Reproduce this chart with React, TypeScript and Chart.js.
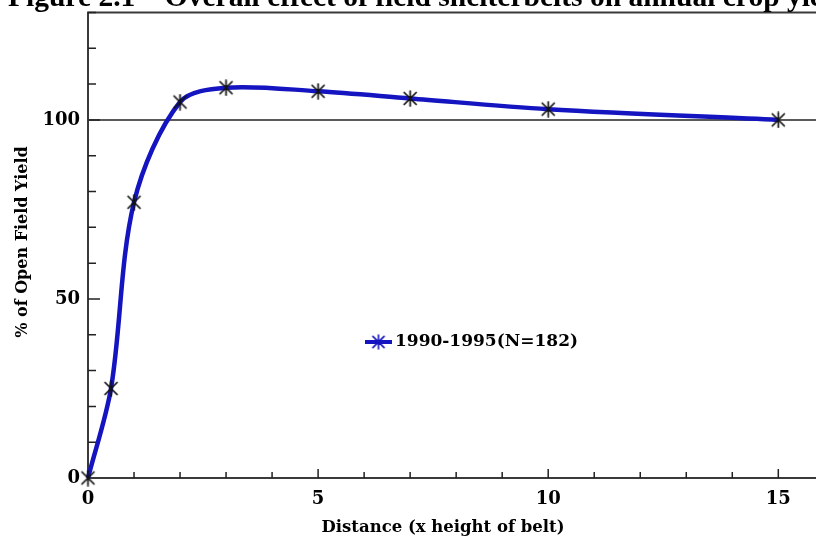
import React, { useEffect, useRef } from "react";
import { Chart, registerables } from "chart.js";

Chart.register(...registerables);

const distance = [0, 0.5, 1, 2, 3, 5, 7, 10, 15];
const yieldPct = [0, 25, 77, 105, 109, 108, 106, 103, 100];
const seriesLabel = "1990-1995(N=182)";
const xLabeled = [0, 5, 10, 15];
const yLabeled = [0, 50, 100];
const referenceLevel = 100;
const titleText = "Figure 2.1 \u2013 Overall effect of field shelterbelts on annual crop yields";
const xTitle = "Distance (x height of belt)";
const yTitle = "% of Open Field Yield";

const SERIF = "'DejaVu Serif', serif";
const LINE_BLUE = "#1414c0";

function makeStar(color: string, size: number, lw: number) {
  const c = document.createElement("canvas");
  c.width = size;
  c.height = size;
  const g = c.getContext("2d")!;
  const m = size / 2;
  const r = size / 2 - 1;
  g.strokeStyle = color;
  g.lineWidth = lw;
  g.lineCap = "round";
  g.beginPath();
  g.moveTo(m, m - r);
  g.lineTo(m, m + r);
  const d = r * 0.8;
  g.moveTo(m - d, m - d);
  g.lineTo(m + d, m + d);
  g.moveTo(m - d, m + d);
  g.lineTo(m + d, m - d);
  g.stroke();
  return c;
}

const deco = {
  id: "deco",
  beforeDatasetsDraw(chart: any) {
    const { ctx, chartArea, scales } = chart;
    const x = scales.x;
    const y = scales.y;
    const right = chart.width;
    ctx.save();
    // reference line
    const ry = y.getPixelForValue(referenceLevel);
    ctx.strokeStyle = "#5a5a5a";
    ctx.lineWidth = 2;
    ctx.beginPath();
    ctx.moveTo(chartArea.left, ry);
    ctx.lineTo(right, ry);
    ctx.stroke();
    // top and bottom border
    ctx.strokeStyle = "#3a3a3a";
    ctx.lineWidth = 2;
    ctx.beginPath();
    ctx.moveTo(chartArea.left - 1, chartArea.top);
    ctx.lineTo(right, chartArea.top);
    ctx.moveTo(chartArea.left - 1, chartArea.bottom);
    ctx.lineTo(right, chartArea.bottom);
    ctx.stroke();
    // inward ticks
    ctx.strokeStyle = "#222";
    ctx.lineWidth = 1.5;
    ctx.beginPath();
    x.ticks.forEach((t: any) => {
      if (t.value === 0) return;
      const px = x.getPixelForValue(t.value);
      const len = t.value % 5 === 0 ? 9 : 6;
      ctx.moveTo(px, chartArea.bottom);
      ctx.lineTo(px, chartArea.bottom - len);
    });
    y.ticks.forEach((t: any) => {
      if (t.value === 0) return;
      const py = y.getPixelForValue(t.value);
      const len = t.value % 50 === 0 ? 12 : 8;
      ctx.moveTo(chartArea.left, py);
      ctx.lineTo(chartArea.left + len, py);
    });
    ctx.stroke();
    ctx.restore();
  },
  afterDraw(chart: any) {
    const { ctx } = chart;
    ctx.save();
    // title (cropped at top)
    ctx.fillStyle = "#000";
    ctx.font = "bold 29.5px 'Liberation Serif', serif";
    ctx.textBaseline = "alphabetic";
    ctx.textAlign = "left";
    ctx.fillText(titleText, 8, 5.5);
    // axis titles
    ctx.font = `bold 16.5px ${SERIF}`;
    ctx.textAlign = "center";
    ctx.textBaseline = "middle";
    ctx.fillText(xTitle, 443, 528);
    ctx.save();
    ctx.translate(23, 242);
    ctx.rotate(-Math.PI / 2);
    ctx.font = `bold 16px ${SERIF}`;
    ctx.fillText(yTitle, 0, 0);
    ctx.restore();
    // legend
    const ly = 342;
    ctx.strokeStyle = LINE_BLUE;
    ctx.lineWidth = 4;
    ctx.beginPath();
    ctx.moveTo(365, ly);
    ctx.lineTo(392, ly);
    ctx.stroke();
    const star = makeStar(LINE_BLUE, 16, 1.6);
    ctx.drawImage(star, 378.5 - 8, ly - 8);
    ctx.font = `bold 17px ${SERIF}`;
    ctx.textAlign = "left";
    ctx.fillStyle = "#000";
    ctx.fillText(chart.data.datasets[0].label, 395, ly);
    ctx.restore();
  },
};

export default function App() {
  const ref = useRef<HTMLCanvasElement>(null);
  useEffect(() => {
    const marker = makeStar("#111", 17, 1.7);
    const chart = new Chart(ref.current!, {
      type: "line",
      data: {
        datasets: [
          {
            label: seriesLabel,
            data: distance.map((d, i) => ({ x: d, y: yieldPct[i] })),
            borderColor: LINE_BLUE,
            borderWidth: 4.5,
            tension: 0.32,
            fill: false,
            pointStyle: marker as any,
            pointRadius: 8,
            pointHoverRadius: 8,
            clip: false as any,
          },
        ],
      },
      options: {
        animation: false,
        responsive: false,
        devicePixelRatio: 1,
        layout: { padding: { top: 10, left: 0, right: 0, bottom: 0 } },
        plugins: { legend: { display: false }, tooltip: { enabled: false } },
        events: [],
        scales: {
          x: {
            type: "linear",
            min: 0,
            max: 15.83,
            afterFit: (s: any) => {
              s.height = 66;
              s.paddingLeft = 0;
              s.paddingRight = 0;
            },
            border: { display: false },
            grid: { display: false },
            ticks: {
              stepSize: 1,
              includeBounds: false,
              autoSkip: false,
              maxRotation: 0,
              padding: 3,
              color: "#000",
              font: { family: SERIF, weight: "bold", size: 18 },
              callback: (v: any) => (xLabeled.includes(v) ? String(v) : ""),
            },
          },
          y: {
            type: "linear",
            min: 0,
            max: 130,
            afterFit: (s: any) => {
              s.width = 88;
              s.paddingTop = 0;
              s.paddingBottom = 0;
            },
            border: { display: true, color: "#3a3a3a", width: 2 },
            grid: { display: false },
            ticks: {
              stepSize: 10,
              autoSkip: false,
              padding: 0,
              color: "#000",
              font: { family: SERIF, weight: "bold", size: 18 },
              callback: (v: any) => (yLabeled.includes(v) ? String(v) : ""),
            },
          },
        },
      },
      plugins: [deco],
    });
    return () => chart.destroy();
  }, []);
  return (
    <div style={{ position: "absolute", left: 0, top: 0, width: 816, height: 544, background: "#fff", overflow: "hidden" }}>
      <canvas ref={ref} width={829} height={544} style={{ display: "block" }} />
    </div>
  );
}
